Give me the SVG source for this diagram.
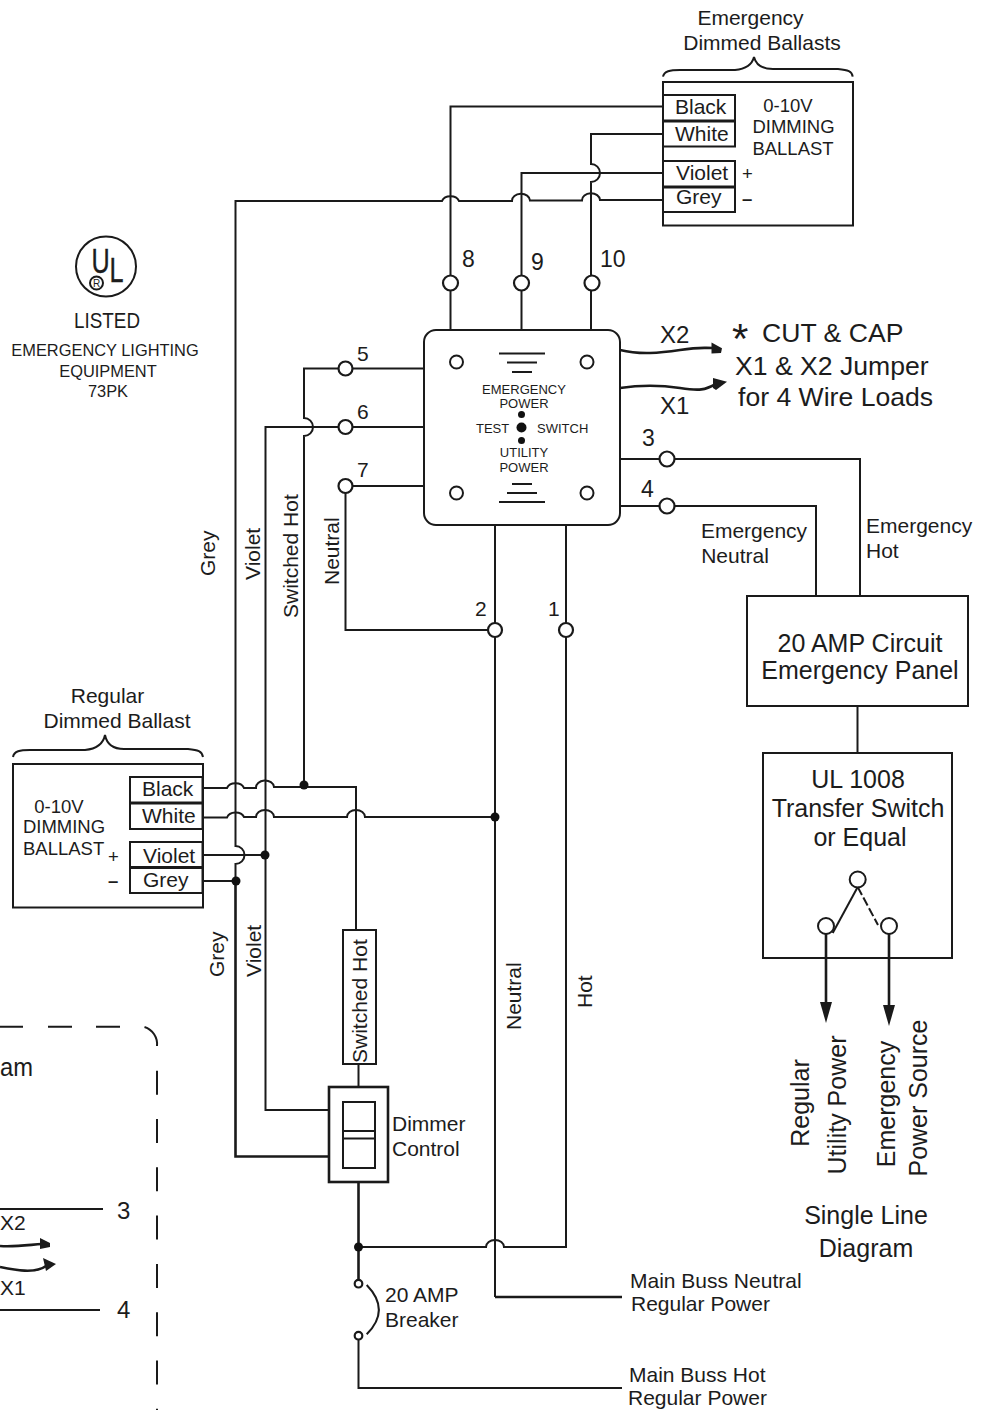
<svg xmlns="http://www.w3.org/2000/svg" width="984" height="1410" viewBox="0 0 984 1410">
<style>
text{font-family:"Liberation Sans",Arial,sans-serif;fill:#1c1c1c}
.f20{font-size:21px}.f21{font-size:21px}.f25{font-size:25px}.f26{font-size:26.600px}.f23{font-size:23px}.f18{font-size:18.500px}.f13{font-size:13px}.f16{font-size:16.400px}
.m{text-anchor:middle}
.w,.b{fill:none;stroke:#1a1a1a;stroke-width:2}
.t{stroke-width:2.600}
.c{fill:#fff;stroke:#1a1a1a;stroke-width:2.200}
.d{fill:#111}
.a{fill:#1a1a1a}
</style>
<g id="connectors">
<path class="w" d="M663,106.500H450.500V330"/>
<path class="w" d="M663,134H591V164A9,9 0 0 1 591,182V330"/>
<path class="w" d="M663,173H521.500V330"/>
<path class="w" d="M663,200H600A9,7 0 0 0 582,200.500H530A9,7 0 0 0 512,201H459A9,7 0 0 0 442,201H235.500V846A9,9 0 0 1 235.500,864V881"/>
<path class="w t" d="M235.500,881V1156.500H329"/>
<path class="w" d="M424,368.500H304V418A9,9 0 0 1 304,436V785"/>
<path class="w" d="M424,427H265.500V1110H329"/>
<path class="w" d="M424,486H345.500V630H495"/>
<path class="w" d="M495,525V1297"/>
<path class="w t" d="M495,1297H622"/>
<path class="w" d="M566,525V1247H504A9,7 0 0 0 486,1247H358.500"/>
<path class="w" d="M620,459H860V596"/>
<path class="w" d="M620,506H816V596"/>
<path class="w" d="M857.500,706V753"/>
<path class="w" d="M203,788H227A9,7 0 0 1 244,788H256A9,7 0 0 1 274,787H356V930"/>
<path class="w" d="M203,817.500H227A9,7 0 0 1 244,817H256A9,7 0 0 1 274,817H347A9,7 0 0 1 365,817H495"/>
<path class="w" d="M203,855H265"/>
<path class="w" d="M203,881H236"/>
<path class="w" d="M358.500,1064V1087"/>
<path class="w t" d="M358.500,1182V1280"/>
<path class="w" d="M358.500,1339V1388H622"/>
<path class="w" d="M366.700,1285Q391,1310 366.700,1334.300"/>
<path class="w" d="M857.700,887L832.700,933"/>
<path class="w" d="M857.700,887L878,925" stroke-dasharray="9 3 9 3"/>
<path class="w t" d="M826,934V1004"/>
<path class="w t" d="M889,934V1007"/>
<path class="a" d="M820,1002H832L826,1023Z"/>
<path class="a" d="M883,1005H895L889,1026Z"/>
<path class="w t" d="M620,350C640,355 660,353 680,350S700,348 714,348"/>
<path class="a" d="M711.500,342.500L722,348.300L721,353L711.500,353.500Z"/>
<path class="w t" d="M620,388C640,385 660,385 680,388S705,390 716,384"/>
<path class="a" d="M713,378L727,381.700L716,390L713,388Z"/>
<circle class="d" cx="304" cy="785" r="4.500"/>
<circle class="d" cx="495" cy="817" r="4.500"/>
<circle class="d" cx="265" cy="855" r="4.500"/>
<circle class="d" cx="236" cy="881" r="4.500"/>
<circle class="d" cx="358.500" cy="1247" r="4.500"/>
<circle class="c" cx="450.500" cy="283" r="7.500"/>
<circle class="c" cx="521.500" cy="283" r="7.500"/>
<circle class="c" cx="592" cy="283" r="7.500"/>
<circle class="c" cx="345.500" cy="368.500" r="7"/>
<circle class="c" cx="345.500" cy="427" r="7"/>
<circle class="c" cx="345.500" cy="486" r="7"/>
<circle class="c" cx="667" cy="459" r="7.500"/>
<circle class="c" cx="667" cy="506" r="7.500"/>
<circle class="c" cx="495" cy="630" r="7"/>
<circle class="c" cx="566" cy="630" r="7"/>
<circle class="c" cx="358.500" cy="1283.700" r="3.800"/>
<circle class="c" cx="358.500" cy="1335.700" r="3.800"/>
<text class="f23" x="462" y="267">8</text>
<text class="f23" x="531" y="270">9</text>
<text class="f23" x="600" y="267">10</text>
<text class="f20" x="357" y="361">5</text>
<text class="f20" x="357" y="419">6</text>
<text class="f20" x="357" y="477">7</text>
<text class="f23" x="642" y="446">3</text>
<text class="f23" x="641" y="497">4</text>
<text class="f20" x="475" y="616">2</text>
<text class="f20" x="548" y="616">1</text>
<text x="660" y="343" font-size="24">X2</text>
<text x="660" y="414" font-size="24">X1</text>
<text class="f20" transform="translate(215,576) rotate(-90)">Grey</text>
<text class="f20" transform="translate(260,580) rotate(-90)">Violet</text>
<text class="f20" transform="translate(298,618) rotate(-90)">Switched Hot</text>
<text class="f20" transform="translate(339,585) rotate(-90)">Neutral</text>
<text class="f20" transform="translate(224,977) rotate(-90)">Grey</text>
<text class="f20" transform="translate(261,977) rotate(-90)">Violet</text>
<text class="f20" transform="translate(521,1030) rotate(-90)">Neutral</text>
<text class="f20" transform="translate(592,1008) rotate(-90)">Hot</text>
<text class="f20 m" x="754" y="538">Emergency</text>
<text class="f20 m" x="735" y="563">Neutral</text>
<text class="f20" x="866" y="533">Emergency</text>
<text class="f20" x="866" y="558">Hot</text>
</g>
<g id="emergency-ballast">
<path class="w" d="M663,76.700C664,71 670,70 680,70H735C745,69 752,65 754,57C756,65 763,69 773,69H838C848,70 852,71 852.700,76.700"/>
<text class="f20 m" x="750.500" y="25">Emergency</text>
<text class="f20 m" x="762" y="50">Dimmed Ballasts</text>
<rect class="w" x="663" y="82" width="190" height="143.500"/>
<rect class="w" x="663" y="95" width="72" height="25.500"/>
<rect class="w" x="663" y="121.500" width="72" height="25"/>
<rect class="w" x="663" y="161" width="72" height="25.500"/>
<rect class="w" x="663" y="187.500" width="72" height="24.500"/>
<text class="f21" x="675" y="114">Black</text>
<text class="f21" x="675" y="140.500">White</text>
<text class="f21" x="676" y="180">Violet</text>
<text class="f21" x="676" y="204">Grey</text>
<text class="f18 m" x="788" y="111.500">0-10V</text>
<text class="f18 m" x="793.500" y="133">DIMMING</text>
<text class="f18 m" x="793" y="155">BALLAST</text>
<text class="f18" x="742" y="180">+</text>
<text class="f18" x="742" y="205" font-weight="bold">–</text>
</g>
<g id="ul-listed">
<circle cx="106" cy="266.500" r="30" fill="none" stroke="#1a1a1a" stroke-width="2"/>
<text transform="translate(91.500,273) scale(.7,1)" font-size="36" stroke="#1c1c1c" stroke-width=".4">U</text>
<text transform="translate(109.500,282) scale(.7,1)" font-size="36" stroke="#1c1c1c" stroke-width=".4">L</text>
<circle cx="96.500" cy="283" r="6.500" fill="#fff" stroke="#1a1a1a" stroke-width="2"/>
<text class="m" x="96.500" y="287" font-size="10">R</text>
<text x="74" y="328" font-size="22" textLength="66" lengthAdjust="spacingAndGlyphs">LISTED</text>
<text class="f16 m" x="105" y="356">EMERGENCY LIGHTING</text>
<text class="f16 m" x="108" y="377">EQUIPMENT</text>
<text class="f16 m" x="108" y="397">73PK</text>
</g>
<g id="test-switch">
<rect class="w" x="424" y="330" width="196" height="195" rx="12"/>
<circle class="w" cx="456.500" cy="362" r="6.500"/>
<circle class="w" cx="587" cy="362" r="6.500"/>
<circle class="w" cx="456.500" cy="493" r="6.500"/>
<circle class="w" cx="587" cy="493" r="6.500"/>
<path class="w" d="M499,353.500H545M507,362.500H537M512,372H532M512,484H532M507,493H537M499,502H545"/>
<circle class="d" cx="521.500" cy="414.500" r="3.500"/>
<circle class="d" cx="521.500" cy="427.500" r="5"/>
<circle class="d" cx="521.500" cy="440.500" r="3.500"/>
<text class="f13 m" x="524" y="394">EMERGENCY</text>
<text class="f13 m" x="524" y="408">POWER</text>
<text class="f13" x="476" y="433">TEST</text>
<text class="f13" x="537" y="433">SWITCH</text>
<text class="f13 m" x="524" y="457">UTILITY</text>
<text class="f13 m" x="524" y="472">POWER</text>
</g>
<g id="cut-cap-note">
<text x="732" y="353" font-size="42" font-weight="normal">*</text>
<text class="f26" x="762" y="342">CUT &amp; CAP</text>
<text class="f26" x="735" y="375">X1 &amp; X2 Jumper</text>
<text class="f26" x="738" y="406">for 4 Wire Loads</text>
</g>
<g id="emergency-panel">
<rect class="w" x="747" y="596" width="221" height="110"/>
<text class="f25 m" x="860" y="652">20 AMP Circuit</text>
<text class="f25 m" x="860" y="679">Emergency Panel</text>
</g>
<g id="transfer-switch">
<rect class="w" x="763" y="753" width="189" height="205"/>
<text class="f25 m" x="858" y="788">UL 1008</text>
<text class="f25 m" x="858" y="817">Transfer Switch</text>
<text class="f25 m" x="860" y="846">or Equal</text>
<circle class="w" cx="857.700" cy="879.500" r="8"/>
<circle class="w" cx="826" cy="926" r="8"/>
<circle class="w" cx="889" cy="926" r="8"/>
</g>
<g id="single-line-labels">
<text class="f25 m" transform="translate(809,1103) rotate(-90)">Regular</text>
<text class="f25 m" transform="translate(846,1105) rotate(-90)">Utility Power</text>
<text class="f25 m" transform="translate(895,1104) rotate(-90)">Emergency</text>
<text class="f25 m" transform="translate(927,1098) rotate(-90)">Power Source</text>
<text class="f25 m" x="866" y="1224">Single Line</text>
<text class="f25 m" x="866" y="1257">Diagram</text>
</g>
<g id="regular-ballast">
<path class="w" d="M13,757C14,751 20,750 30,750H85C95,749 103,745 105,735C107,745 114,749 124,749H188C198,750 202,751 203,757"/>
<text class="f20 m" x="107.500" y="703">Regular</text>
<text class="f20 m" x="117" y="728">Dimmed Ballast</text>
<rect class="w" x="13" y="764" width="190" height="143.500"/>
<rect class="w" x="130" y="777" width="72.500" height="25.500"/>
<rect class="w" x="130" y="803.500" width="72.500" height="25.500"/>
<rect class="w" x="130" y="842" width="72.500" height="25"/>
<rect class="w" x="130" y="868" width="72.500" height="25"/>
<text class="f21" x="142" y="796">Black</text>
<text class="f21" x="142" y="822.500">White</text>
<text class="f21" x="143" y="862.500">Violet</text>
<text class="f21" x="143" y="886.500">Grey</text>
<text class="f18 m" x="59" y="812.500">0-10V</text>
<text class="f18 m" x="64" y="832.500">DIMMING</text>
<text class="f18" x="23" y="855">BALLAST</text>
<text class="f18" x="108" y="863" font-size="21">+</text>
<text class="f18" x="108" y="887" font-weight="bold">–</text>
</g>
<g id="switched-hot-box">
<rect class="w" x="343" y="930" width="33" height="134"/>
<text class="f20" transform="translate(367,1063) rotate(-90)">Switched Hot</text>
</g>
<g id="dimmer-control">
<rect class="w t" x="329" y="1087" width="59" height="95"/>
<rect class="w" x="343" y="1102" width="32" height="66"/>
<path class="w" d="M343,1131H375M343,1138.500H375"/>
<text class="f20" x="392" y="1131">Dimmer</text>
<text class="f20" x="392" y="1156">Control</text>
</g>
<g id="breaker-labels">
<text class="f20" x="385" y="1302">20 AMP</text>
<text class="f20" x="385" y="1327">Breaker</text>
<text class="f20" x="630" y="1288">Main Buss Neutral</text>
<text class="f20" x="631" y="1311">Regular Power</text>
<text class="f20" x="629" y="1382">Main Buss Hot</text>
<text class="f20" x="628" y="1405">Regular Power</text>
</g>
<g id="inset">
<path class="w" d="M0,1026.700H23M48,1026.700H72M96,1026.700H120M144.500,1027A18,18 0 0 1 157,1046"/>
<path class="w" d="M157,1070.700V1410" stroke-dasharray="24 24.300"/>
<text class="f26" x="0" y="1076" textLength="33" lengthAdjust="spacingAndGlyphs">am</text>
<path class="w" d="M0,1209H103M0,1310H100"/>
<text x="117" y="1219" font-size="24">3</text>
<text x="117" y="1318" font-size="24">4</text>
<text x="0" y="1230" font-size="21">X2</text>
<text x="0" y="1295" font-size="21">X1</text>
<path class="w t" d="M0,1246C15,1247 28,1245 42,1244"/>
<path class="a" d="M40,1238L50,1243L50,1247L40,1249Z"/>
<path class="w t" d="M0,1267C15,1270 35,1274 46,1266"/>
<path class="a" d="M43,1258L56,1264L46,1271Z"/>
</g>
</svg>
